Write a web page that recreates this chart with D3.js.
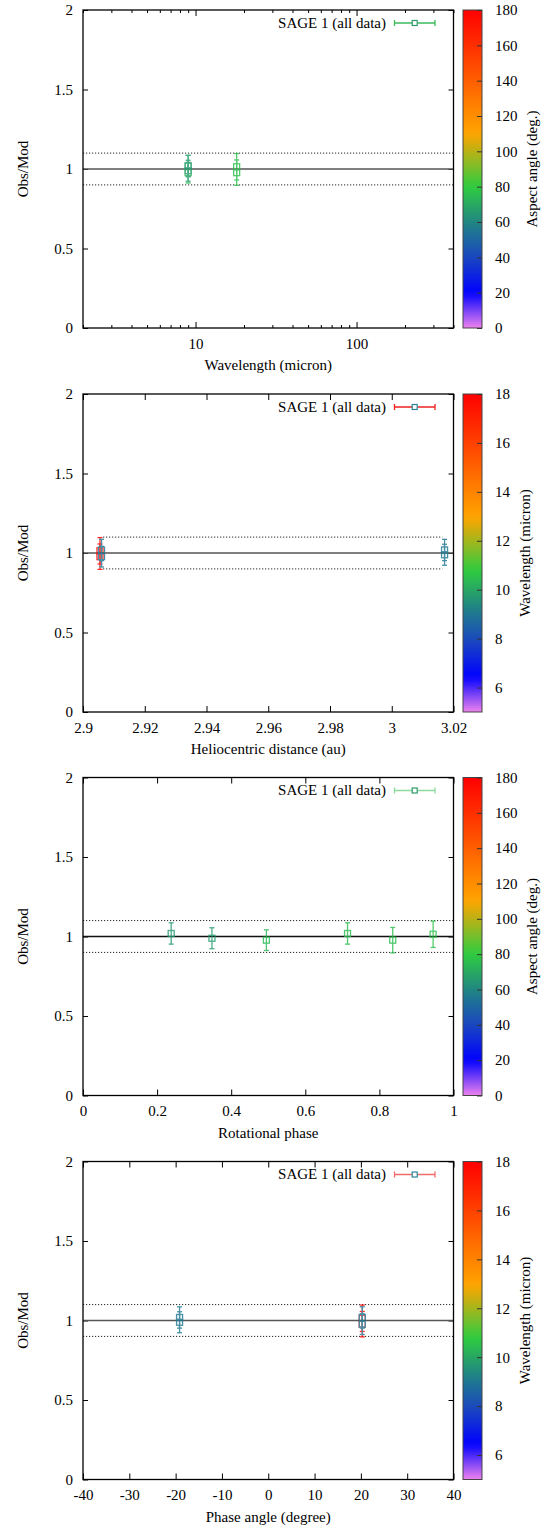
<!DOCTYPE html>
<html><head><meta charset="utf-8">
<script src="https://cdn.jsdelivr.net/npm/d3@7"></script>
<style>
body{margin:0;background:#fff}
svg text{font-family:"Liberation Serif","DejaVu Serif","Times New Roman",serif !important;font-size:15px !important;fill:#000}
</style>
</head><body>
<svg id="c" width="554" height="1531" font-family="Liberation Serif" font-size="15"></svg>
<script>
// ---------------- data ----------------
const obsMod      = [1.019, 0.989, 0.977, 1.019, 0.977, 1.014];
const obsErr      = [0.067, 0.066, 0.065, 0.067, 0.080, 0.083];
const wavelength  = [9, 9, 9, 9, 18, 18];
const helioDist   = [3.0171, 3.0171, 2.9060, 2.9060, 2.9055, 2.9055];
const rotPhase    = [0.238, 0.348, 0.495, 0.714, 0.836, 0.945];
const phaseAngle  = [-19.15, -19.15, 20.3, 20.3, 20.3, 20.3];
const aspectAngle = [65, 66, 74, 75, 76, 77];

const yTicks = [0, 0.5, 1, 1.5, 2];
const yTickLabels = ["0", "0.5", "1", "1.5", "2"];
const refLines = [0.9, 1.0, 1.1];

const wlDomain = [2, 400];
const wlTicks = [10, 100];
const wlTickLabels = ["10", "100"];
const wlMinorTicks = [2,3,4,5,6,7,8,9,20,30,40,50,60,70,80,90,200,300,400];

const rDomain = [2.9, 3.02];
const rTicks = [2.9, 2.92, 2.94, 2.96, 2.98, 3.0, 3.02];
const rTickLabels = ["2.9", "2.92", "2.94", "2.96", "2.98", "3", "3.02"];
const rRefRange = [2.9065, 3.0164];

const phDomain = [0, 1];
const phTicks = [0, 0.2, 0.4, 0.6, 0.8, 1];
const phTickLabels = ["0", "0.2", "0.4", "0.6", "0.8", "1"];

const paDomain = [-40, 40];
const paTicks = [-40, -30, -20, -10, 0, 10, 20, 30, 40];
const paTickLabels = ["-40", "-30", "-20", "-10", "0", "10", "20", "30", "40"];

const aspDomain = [0, 180];
const aspTicks = [0, 20, 40, 60, 80, 100, 120, 140, 160, 180];
const wlcDomain = [5, 18];
const wlcTicks = [6, 8, 10, 12, 14, 16, 18];

const paletteStops  = [0, 0.111, 0.222, 0.31, 0.444, 0.611, 1];
const paletteColors = ["#ee82ee", "#0000ff", "#1a46c0", "#1e7890", "#2ecc40", "#ffa500", "#ff0000"];

const legendText = "SAGE 1 (all data)";
const yTitle = "Obs/Mod";

// ---------------- layout ----------------
const FONT = '"Liberation Serif","DejaVu Serif","Times New Roman",serif';
const W = 554, H = 1531;
const plotL = 83, plotR = 453.5, plotH = 318;
const panelTops = [10, 394, 777.5, 1161.5];
const cbX = 463, cbW = 19;

const palette = d3.scaleLinear().domain(paletteStops).range(paletteColors).interpolate(d3.interpolateRgb);

const panels = [
  {x: wavelength, log: true, dom: wlDomain, ticks: wlTicks, labels: wlTickLabels, minor: wlMinorTicks,
   title: "Wavelength (micron)", c: aspectAngle, cDom: aspDomain, cTicks: aspTicks, cTitle: "Aspect angle (deg.)", cTitleX: 532,
   ref: null, legLine: "#3cba5c", legSq: "#2e9a6a", solid: "#555"},
  {x: helioDist, log: false, dom: rDomain, ticks: rTicks, labels: rTickLabels, minor: null,
   title: "Heliocentric distance (au)", c: wavelength, cDom: wlcDomain, cTicks: wlcTicks, cTitle: "Wavelength (micron)", cTitleX: 525,
   ref: rRefRange, legLine: "#ee2020", legSq: "#2a8596", solid: "#555"},
  {x: rotPhase, log: false, dom: phDomain, ticks: phTicks, labels: phTickLabels, minor: null,
   title: "Rotational phase", c: aspectAngle, cDom: aspDomain, cTicks: aspTicks, cTitle: "Aspect angle (deg.)", cTitleX: 532,
   ref: null, legLine: "#8cda9c", legSq: "#2e9a6a", solid: "#111"},
  {x: phaseAngle, log: false, dom: paDomain, ticks: paTicks, labels: paTickLabels, minor: null,
   title: "Phase angle (degree)", c: wavelength, cDom: wlcDomain, cTicks: wlcTicks, cTitle: "Wavelength (micron)", cTitleX: 525,
   ref: null, legLine: "#f06a6a", legSq: "#2a8596", solid: "#555"}
];

const svg = d3.select("#c");
svg.append("rect").attr("width", W).attr("height", H).attr("fill", "#fff");

const defs = svg.append("defs");
const grad = defs.append("linearGradient").attr("id", "pal")
  .attr("x1", 0).attr("y1", 1).attr("x2", 0).attr("y2", 0);
d3.range(0, 1.0001, 0.02).forEach(f => {
  grad.append("stop").attr("offset", f).attr("stop-color", palette(f));
});

function styleAxis(sel) {
  sel.select(".domain").remove();
  sel.selectAll(".tick line").attr("stroke", "#000").attr("stroke-width", 1);
  sel.attr("font-size", 15).attr("font-family", FONT);
  sel.selectAll("text").style("font-family", FONT).style("font-size", "15px").attr("fill", "#000");
}

panels.forEach((p, i) => {
  const top = panelTops[i], bottom = top + plotH;
  const g = svg.append("g");
  const x = (p.log ? d3.scaleLog() : d3.scaleLinear()).domain(p.dom).range([plotL, plotR]);
  const y = d3.scaleLinear().domain([0, 2]).range([bottom, top]);

  // axes
  g.append("g").attr("transform", `translate(0,${bottom})`)
    .call(d3.axisBottom(x).tickValues(p.ticks).tickFormat((d, j) => p.labels[j]).tickSize(-6).tickPadding(10))
    .call(styleAxis);
  g.append("g").attr("transform", `translate(0,${top})`)
    .call(d3.axisTop(x).tickValues(p.ticks).tickFormat("").tickSize(-6))
    .call(styleAxis);
  if (p.minor) {
    g.append("g").attr("transform", `translate(0,${bottom})`)
      .call(d3.axisBottom(x).tickValues(p.minor).tickFormat("").tickSize(-3))
      .call(styleAxis);
    g.append("g").attr("transform", `translate(0,${top})`)
      .call(d3.axisTop(x).tickValues(p.minor).tickFormat("").tickSize(-3))
      .call(styleAxis);
  }
  g.append("g").attr("transform", `translate(${plotL},0)`)
    .call(d3.axisLeft(y).tickValues(yTicks).tickFormat((d, j) => yTickLabels[j]).tickSize(-5).tickPadding(10))
    .call(styleAxis);
  g.append("g").attr("transform", `translate(${plotR},0)`)
    .call(d3.axisRight(y).tickValues(yTicks).tickFormat("").tickSize(-5))
    .call(styleAxis);

  // reference lines
  const rx0 = p.ref ? x(p.ref[0]) : plotL, rx1 = p.ref ? x(p.ref[1]) : plotR;
  refLines.forEach(v => {
    if (v === 1.0) {
      g.append("line").attr("x1", plotL).attr("x2", plotR).attr("y1", y(v)).attr("y2", y(v))
        .attr("stroke", p.solid).attr("stroke-width", 1.5);
    } else {
      g.append("line").attr("x1", rx0).attr("x2", rx1).attr("y1", y(v)).attr("y2", y(v))
        .attr("stroke", "#222").attr("stroke-width", 1).attr("stroke-dasharray", "1.2,1.8");
    }
  });

  // data points (drawn last-to-first so the 9 micron points sit on top)
  const cNorm = d3.scaleLinear().domain(p.cDom).range([0, 1]);
  const pts = g.append("g").attr("opacity", 0.82);
  d3.range(obsMod.length - 1, -1, -1).forEach(j => {
    const v = obsMod[j];
    const col = palette(cNorm(p.c[j]));
    const px = x(p.x[j]);
    const e = obsErr[j];
    const pg = pts.append("g").attr("stroke", col).attr("fill", "none").attr("stroke-width", 1.3);
    pg.append("line").attr("x1", px).attr("x2", px).attr("y1", y(v - e)).attr("y2", y(v + e));
    [v - e, v + e].forEach(t => {
      pg.append("line").attr("x1", px - 2.5).attr("x2", px + 2.5).attr("y1", y(t)).attr("y2", y(t));
    });
    pg.append("rect").attr("x", px - 3).attr("y", y(v) - 3).attr("width", 6).attr("height", 6);
  });

  // frame
  g.append("rect").attr("x", plotL).attr("y", top).attr("width", plotR - plotL).attr("height", plotH)
    .attr("fill", "none").attr("stroke", "#000").attr("stroke-width", 1.3);

  // legend
  const ly = top + 13;
  g.append("text").attr("x", 386).attr("y", ly).attr("dy", "0.33em").attr("text-anchor", "end").text(legendText);
  const lg = g.append("g").attr("stroke", p.legLine).attr("stroke-width", 1.3);
  lg.append("line").attr("x1", 394.5).attr("x2", 435).attr("y1", ly).attr("y2", ly);
  [394.5, 435].forEach(cx => lg.append("line").attr("x1", cx).attr("x2", cx).attr("y1", ly - 3).attr("y2", ly + 3));
  g.append("rect").attr("x", 414.7 - 2.5).attr("y", ly - 2.5).attr("width", 5).attr("height", 5)
    .attr("fill", "#fff").attr("stroke", p.legSq).attr("stroke-width", 1.2);

  // titles
  g.append("text").attr("x", (plotL + plotR) / 2).attr("y", bottom + 42).attr("text-anchor", "middle").text(p.title);
  g.append("text").attr("transform", `translate(23,${(top + bottom) / 2}) rotate(-90)`)
    .attr("dy", "0.35em").attr("text-anchor", "middle").text(yTitle);

  // colorbar
  g.append("rect").attr("x", cbX).attr("y", top).attr("width", cbW).attr("height", plotH)
    .attr("fill", "url(#pal)").attr("stroke", "#444").attr("stroke-width", 1);
  const cy = d3.scaleLinear().domain(p.cDom).range([bottom, top]);
  g.append("g").attr("transform", `translate(${cbX + cbW},0)`)
    .call(d3.axisRight(cy).tickValues(p.cTicks).tickFormat(d3.format("d")).tickSize(-5).tickPadding(13))
    .call(styleAxis)
    .selectAll(".tick line").attr("stroke", "#333");
  g.append("text").attr("transform", `translate(${p.cTitleX},${(top + bottom) / 2}) rotate(-90)`)
    .attr("dy", "0.35em").attr("text-anchor", "middle").text(p.cTitle);
});

svg.selectAll("text").style("font-family", FONT).style("font-size", "15px");
</script>
</body></html>
